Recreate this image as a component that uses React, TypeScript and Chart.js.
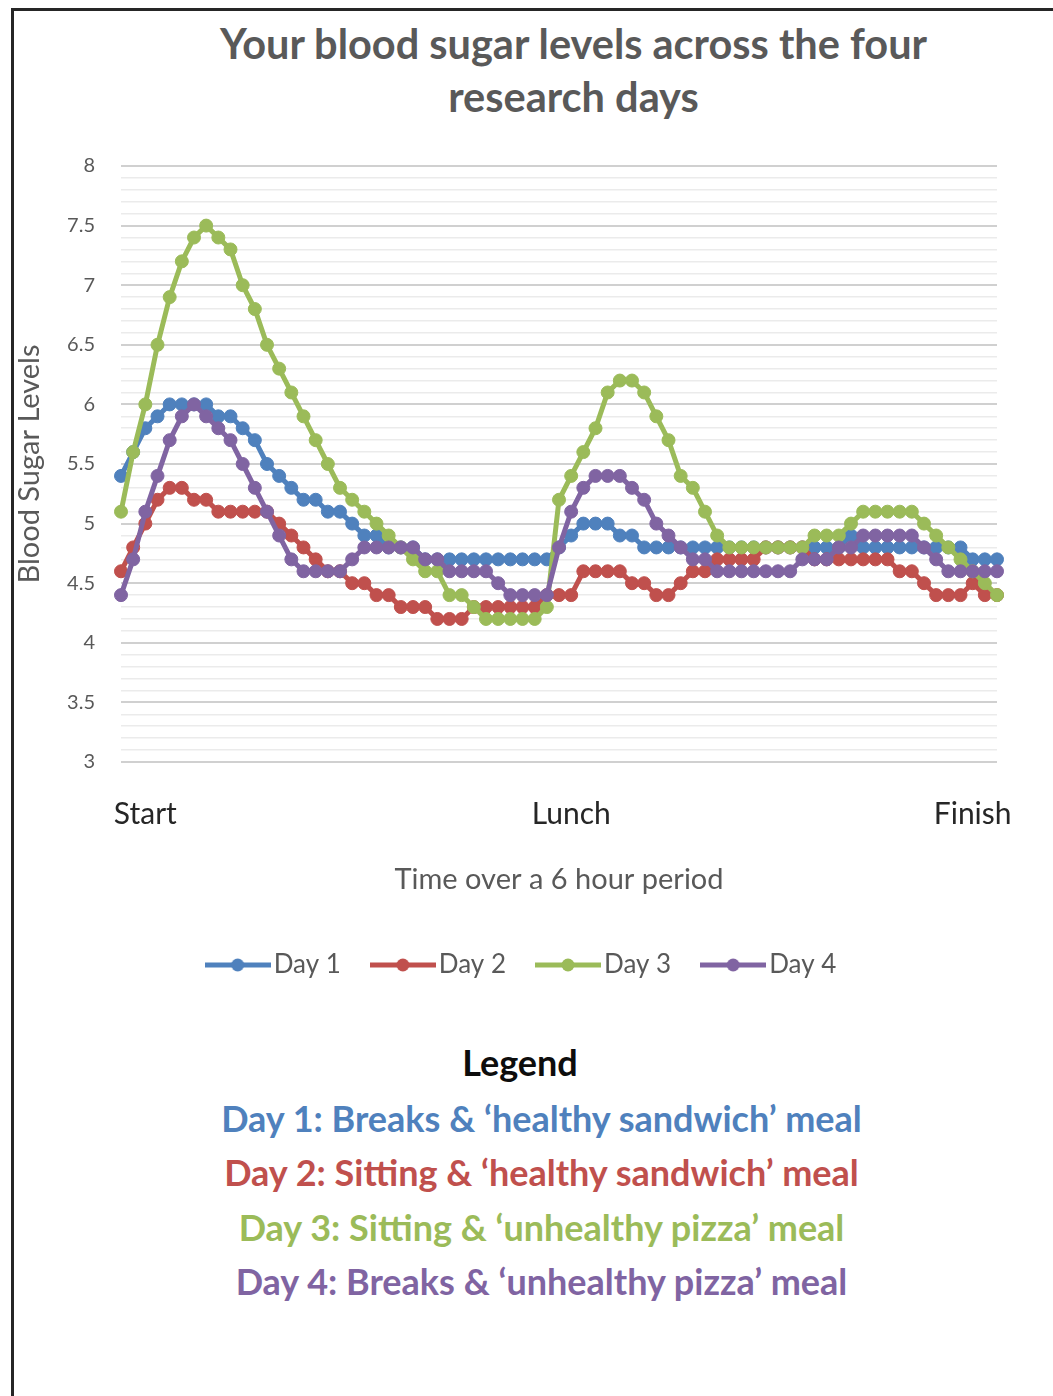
import React, { useEffect, useRef } from "react";
import { Chart, registerables } from "chart.js";

Chart.register(...registerables);

// ---- data ----
const pointCount = 73; // readings every 5 minutes over 6 hours
const tickLabelPositions: number[] = [2, 37, 70];
const tickLabelTexts: string[] = ["Start", "Lunch", "Finish"];
const timeLabels: string[] = Array(pointCount).fill("");
tickLabelPositions.forEach((p, i) => {
  timeLabels[p] = tickLabelTexts[i];
});

const seriesNames: string[] = ["Day 1", "Day 2", "Day 3", "Day 4"];
const seriesColors: string[] = ["#4F81BD", "#C0504D", "#9BBB59", "#8064A2"];

const day1: number[] = [
  5.4, 5.6, 5.8, 5.9, 6.0, 6.0, 6.0, 6.0, 5.9, 5.9,
  5.8, 5.7, 5.5, 5.4, 5.3, 5.2, 5.2, 5.1, 5.1, 5.0,
  4.9, 4.9, 4.8, 4.8, 4.8, 4.7, 4.7, 4.7, 4.7, 4.7,
  4.7, 4.7, 4.7, 4.7, 4.7, 4.7, 4.8, 4.9, 5.0, 5.0,
  5.0, 4.9, 4.9, 4.8, 4.8, 4.8, 4.8, 4.8, 4.8, 4.8,
  4.8, 4.8, 4.8, 4.8, 4.8, 4.8, 4.8, 4.8, 4.8, 4.8,
  4.9, 4.8, 4.8, 4.8, 4.8, 4.8, 4.8, 4.8, 4.8, 4.8,
  4.7, 4.7, 4.7,
];
const day2: number[] = [
  4.6, 4.8, 5.0, 5.2, 5.3, 5.3, 5.2, 5.2, 5.1, 5.1,
  5.1, 5.1, 5.1, 5.0, 4.9, 4.8, 4.7, 4.6, 4.6, 4.5,
  4.5, 4.4, 4.4, 4.3, 4.3, 4.3, 4.2, 4.2, 4.2, 4.3,
  4.3, 4.3, 4.3, 4.3, 4.3, 4.4, 4.4, 4.4, 4.6, 4.6,
  4.6, 4.6, 4.5, 4.5, 4.4, 4.4, 4.5, 4.6, 4.6, 4.7,
  4.7, 4.7, 4.7, 4.8, 4.8, 4.8, 4.8, 4.7, 4.7, 4.7,
  4.7, 4.7, 4.7, 4.7, 4.6, 4.6, 4.5, 4.4, 4.4, 4.4,
  4.5, 4.4, 4.4,
];
const day3: number[] = [
  5.1, 5.6, 6.0, 6.5, 6.9, 7.2, 7.4, 7.5, 7.4, 7.3,
  7.0, 6.8, 6.5, 6.3, 6.1, 5.9, 5.7, 5.5, 5.3, 5.2,
  5.1, 5.0, 4.9, 4.8, 4.7, 4.6, 4.6, 4.4, 4.4, 4.3,
  4.2, 4.2, 4.2, 4.2, 4.2, 4.3, 5.2, 5.4, 5.6, 5.8,
  6.1, 6.2, 6.2, 6.1, 5.9, 5.7, 5.4, 5.3, 5.1, 4.9,
  4.8, 4.8, 4.8, 4.8, 4.8, 4.8, 4.8, 4.9, 4.9, 4.9,
  5.0, 5.1, 5.1, 5.1, 5.1, 5.1, 5.0, 4.9, 4.8, 4.7,
  4.6, 4.5, 4.4,
];
const day4: number[] = [
  4.4, 4.7, 5.1, 5.4, 5.7, 5.9, 6.0, 5.9, 5.8, 5.7,
  5.5, 5.3, 5.1, 4.9, 4.7, 4.6, 4.6, 4.6, 4.6, 4.7,
  4.8, 4.8, 4.8, 4.8, 4.8, 4.7, 4.7, 4.6, 4.6, 4.6,
  4.6, 4.5, 4.4, 4.4, 4.4, 4.4, 4.8, 5.1, 5.3, 5.4,
  5.4, 5.4, 5.3, 5.2, 5.0, 4.9, 4.8, 4.7, 4.7, 4.6,
  4.6, 4.6, 4.6, 4.6, 4.6, 4.6, 4.7, 4.7, 4.7, 4.8,
  4.8, 4.9, 4.9, 4.9, 4.9, 4.9, 4.8, 4.7, 4.6, 4.6,
  4.6, 4.6, 4.6,
];
const seriesValues: number[][] = [day1, day2, day3, day4];

const yMin = 3;
const yMax = 8;
const yStep = 0.1;

const chartTitleLines: string[] = [
  "Your blood sugar levels across the four",
  "research days",
];
const yAxisTitle = "Blood Sugar Levels";
const xAxisTitle = "Time over a 6 hour period";
const legendHeading = "Legend";
const legendLines: string[] = [
  "Day 1: Breaks & \u2018healthy sandwich\u2019 meal",
  "Day 2: Sitting & \u2018healthy sandwich\u2019 meal",
  "Day 3: Sitting & \u2018unhealthy pizza\u2019 meal",
  "Day 4: Breaks & \u2018unhealthy pizza\u2019 meal",
];

const FONT = "Lato, 'Open Sans', 'DejaVu Sans', sans-serif";

function makeLegendIcon(color: string): HTMLCanvasElement {
  const c = document.createElement("canvas");
  c.width = 66;
  c.height = 16;
  const g = c.getContext("2d");
  if (g) {
    g.strokeStyle = color;
    g.lineWidth = 5;
    g.beginPath();
    g.moveTo(0, 8);
    g.lineTo(66, 8);
    g.stroke();
    g.fillStyle = color;
    g.beginPath();
    g.arc(33, 8, 6.5, 0, Math.PI * 2);
    g.fill();
  }
  return c;
}

function isMajor(v: number): boolean {
  const r = Math.round(v * 10) / 10;
  return Math.abs(r * 2 - Math.round(r * 2)) < 1e-6;
}

export default function App() {
  const ref = useRef<HTMLCanvasElement>(null);

  useEffect(() => {
    const canvas = ref.current;
    if (!canvas) return;
    Chart.defaults.font.family = FONT;
    const icons = seriesColors.map(makeLegendIcon);

    const chart = new Chart(canvas, {
      type: "line",
      data: {
        labels: timeLabels,
        datasets: seriesValues.map((vals, i) => ({
          label: seriesNames[i],
          data: vals,
          borderColor: seriesColors[i],
          backgroundColor: seriesColors[i],
          pointBackgroundColor: seriesColors[i],
          pointBorderColor: seriesColors[i],
          borderWidth: 5,
          pointRadius: 6.5,
          pointBorderWidth: 1,
          tension: 0,
          fill: false,
          order: seriesValues.length - i,
        })),
      },
      options: {
        responsive: false,
        animation: false,
        devicePixelRatio: 1,
        events: [],
        layout: { padding: { left: 40, right: 56, top: 155, bottom: 0 } },
        plugins: {
          title: { display: false },
          tooltip: { enabled: false },
          legend: {
            display: true,
            position: "bottom",
            labels: {
              usePointStyle: true,
              pointStyleWidth: 46,
              padding: 39,
              color: "#595959",
              font: { size: 26, family: FONT },
              generateLabels: (c: any) =>
                c.data.datasets.map((ds: any, i: number) => ({
                  text: ds.label,
                  fillStyle: seriesColors[i],
                  strokeStyle: seriesColors[i],
                  lineWidth: 0,
                  pointStyle: icons[i],
                  hidden: false,
                  datasetIndex: i,
                  fontColor: "#595959",
                })),
            },
          },
        },
        scales: {
          x: {
            type: "category",
            afterFit: (s: any) => {
              s.height = 151;
            },
            border: { display: false },
            grid: { display: false, drawTicks: false },
            ticks: {
              autoSkip: false,
              maxRotation: 0,
              minRotation: 0,
              padding: 34,
              color: "#262626",
              font: { size: 30, family: FONT },
            },
            title: {
              display: true,
              text: xAxisTitle,
              color: "#595959",
              font: { size: 29, family: FONT },
              padding: { top: 0, bottom: 15.6 },
            },
          },
          y: {
            min: yMin,
            max: yMax,
            afterFit: (s: any) => {
              s.width = 67;
            },
            border: { display: false },
            grid: {
              drawTicks: false,
              color: (ctx: any) =>
                ctx.tick && isMajor(ctx.tick.value) ? "#d0d0d0" : "#ebebeb",
              lineWidth: (ctx: any) =>
                ctx.tick && isMajor(ctx.tick.value) ? 2 : 1.5,
            },
            ticks: {
              stepSize: yStep,
              autoSkip: false,
              maxTicksLimit: 200,
              padding: 26,
              color: "#595959",
              font: { size: 20, family: FONT },
              callback: (v: any) => {
                const n = Math.round(Number(v) * 10) / 10;
                if (!isMajor(n)) return "";
                return Number.isInteger(n) ? String(n) : n.toFixed(1);
              },
            },
            title: {
              display: true,
              text: yAxisTitle,
              color: "#595959",
              font: { size: 29, family: FONT },
              padding: { top: -41.4, bottom: 0 },
            },
          },
        },
      } as any,
    });
    return () => chart.destroy();
  }, []);

  return (
    <div
      style={{
        position: "fixed",
        left: 0,
        top: 0,
        width: 1053,
        height: 1396,
        overflow: "hidden",
        background: "#ffffff",
      }}
    >
      <div
        style={{
          position: "absolute",
          left: 11,
          top: 8,
          width: 1200,
          height: 1500,
          borderLeft: "3px solid #262626",
          borderTop: "3px solid #262626",
        }}
      />
      <div
        style={{
          position: "absolute",
          left: 0,
          top: 17,
          width: 1147,
          textAlign: "center",
          fontFamily: FONT,
          fontWeight: 700,
          fontSize: 41.5,
          lineHeight: "53px",
          color: "#595959",
          whiteSpace: "nowrap",
        }}
      >
        {chartTitleLines.map((t, i) => (
          <div key={i}>{t}</div>
        ))}
      </div>
      <canvas
        ref={ref}
        width={1039}
        height={977}
        style={{ position: "absolute", left: 14, top: 11, width: 1039, height: 977 }}
      />
      <div
        style={{
          position: "absolute",
          left: 0,
          top: 1037,
          width: 1040,
          textAlign: "center",
          fontFamily: FONT,
          fontWeight: 700,
          fontSize: 36,
          lineHeight: "50px",
          color: "#0d0d0d",
        }}
      >
        {legendHeading}
      </div>
      <div
        style={{
          position: "absolute",
          left: 0,
          top: 1090.75,
          width: 1083,
          textAlign: "center",
          fontFamily: FONT,
          fontWeight: 700,
          fontSize: 36,
          lineHeight: "54.5px",
          whiteSpace: "nowrap",
        }}
      >
        {legendLines.map((t, i) => (
          <div key={i} style={{ color: seriesColors[i] }}>
            {t}
          </div>
        ))}
      </div>
    </div>
  );
}
